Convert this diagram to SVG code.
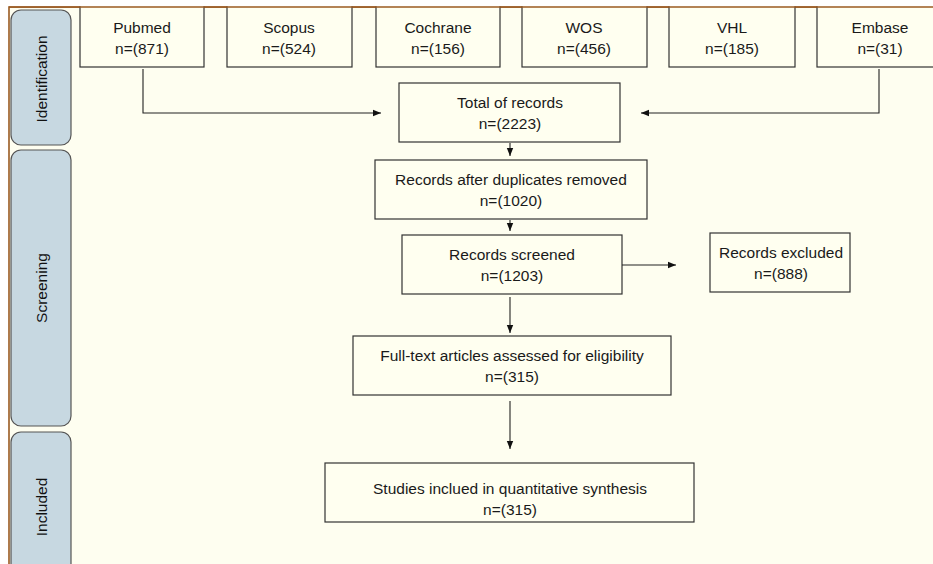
<svg xmlns="http://www.w3.org/2000/svg" width="933" height="564" viewBox="0 0 933 564">
<defs>
<marker id="ah" viewBox="0 0 8 8" refX="8" refY="4" markerWidth="8" markerHeight="8" markerUnits="userSpaceOnUse" orient="auto">
<path d="M0,0.8 L8,4 L0,7.2 z" fill="#111"/>
</marker>
</defs>
<style>
.box{fill:#FFFFF0;stroke:#333;stroke-width:1.2}
.side{fill:#C7D8E1;stroke:#555;stroke-width:1.2}
.t{font-family:"Liberation Sans",Arial,sans-serif;font-size:15.5px;fill:#1a1a1a;text-anchor:middle}
.s{font-family:"Liberation Sans",Arial,sans-serif;font-size:15.5px;fill:#111;text-anchor:middle}
.c{fill:none;stroke:#222;stroke-width:1.1}
</style>
<rect x="0" y="0" width="933" height="564" fill="#FFFFFF"/>
<rect x="9" y="7" width="930" height="560" fill="#FEFEF0" stroke="#9A5A22" stroke-width="1.6"/>
<g id="identification">
<rect class="side" x="11" y="10" width="60" height="135" rx="10"/>
<text class="s" transform="translate(47,79) rotate(-90)">Identification</text>
</g>
<g id="screening">
<rect class="side" x="11" y="150" width="60" height="276" rx="10"/>
<text class="s" transform="translate(47,288) rotate(-90)">Screening</text>
</g>
<g id="included">
<rect class="side" x="11" y="432" width="60" height="150" rx="10"/>
<text class="s" transform="translate(47,507) rotate(-90)">Included</text>
</g>
<g id="pubmed"><rect class="box" x="80" y="5" width="124" height="62"/><text class="t" x="142" y="33">Pubmed</text><text class="t" x="142" y="54">n=(871)</text></g>
<g id="scopus"><rect class="box" x="227" y="5" width="125" height="62"/><text class="t" x="289" y="33">Scopus</text><text class="t" x="289" y="54">n=(524)</text></g>
<g id="cochrane"><rect class="box" x="376" y="5" width="124" height="62"/><text class="t" x="438" y="33">Cochrane</text><text class="t" x="438" y="54">n=(156)</text></g>
<g id="wos"><rect class="box" x="522" y="5" width="125" height="62"/><text class="t" x="584" y="33">WOS</text><text class="t" x="584" y="54">n=(456)</text></g>
<g id="vhl"><rect class="box" x="669" y="5" width="126" height="62"/><text class="t" x="732" y="33">VHL</text><text class="t" x="732" y="54">n=(185)</text></g>
<g id="embase"><rect class="box" x="817" y="5" width="130" height="62"/><text class="t" x="880" y="33">Embase</text><text class="t" x="880" y="54">n=(31)</text></g>
<rect x="9" y="0" width="924" height="6.2" fill="#FFFFFF"/>
<line x1="9" y1="7" x2="933" y2="7" stroke="#9A5A22" stroke-width="1.6"/>
<g id="total"><rect class="box" x="399" y="83" width="221" height="59"/><text class="t" x="510" y="108">Total of records</text><text class="t" x="510" y="129">n=(2223)</text></g>
<g id="duplicates"><rect class="box" x="375" y="160" width="272" height="59"/><text class="t" x="511" y="185">Records after duplicates removed</text><text class="t" x="511" y="206">n=(1020)</text></g>
<g id="screened"><rect class="box" x="402" y="235" width="220" height="59"/><text class="t" x="512" y="260">Records screened</text><text class="t" x="512" y="281">n=(1203)</text></g>
<g id="excluded"><rect class="box" x="710" y="233" width="140" height="59"/><text class="t" x="781" y="258">Records excluded</text><text class="t" x="781" y="279">n=(888)</text></g>
<g id="fulltext"><rect class="box" x="353" y="336" width="318" height="59"/><text class="t" x="512" y="361">Full-text articles assessed for eligibility</text><text class="t" x="512" y="382">n=(315)</text></g>
<g id="studies"><rect class="box" x="325" y="463" width="369" height="59"/><text class="t" x="510" y="494">Studies inclued in quantitative synthesis</text><text class="t" x="510" y="515">n=(315)</text></g>
<g id="connectors">
<path class="c" d="M143,69 V113 H381" marker-end="url(#ah)"/>
<path class="c" d="M879,69 V113 H641" marker-end="url(#ah)"/>
<path class="c" d="M510,143 V156" marker-end="url(#ah)"/>
<path class="c" d="M510,220 V231" marker-end="url(#ah)"/>
<path class="c" d="M622,265 H676" marker-end="url(#ah)"/>
<path class="c" d="M510,297 V333" marker-end="url(#ah)"/>
<path class="c" d="M510,401 V449" marker-end="url(#ah)"/>
</g>
</svg>
